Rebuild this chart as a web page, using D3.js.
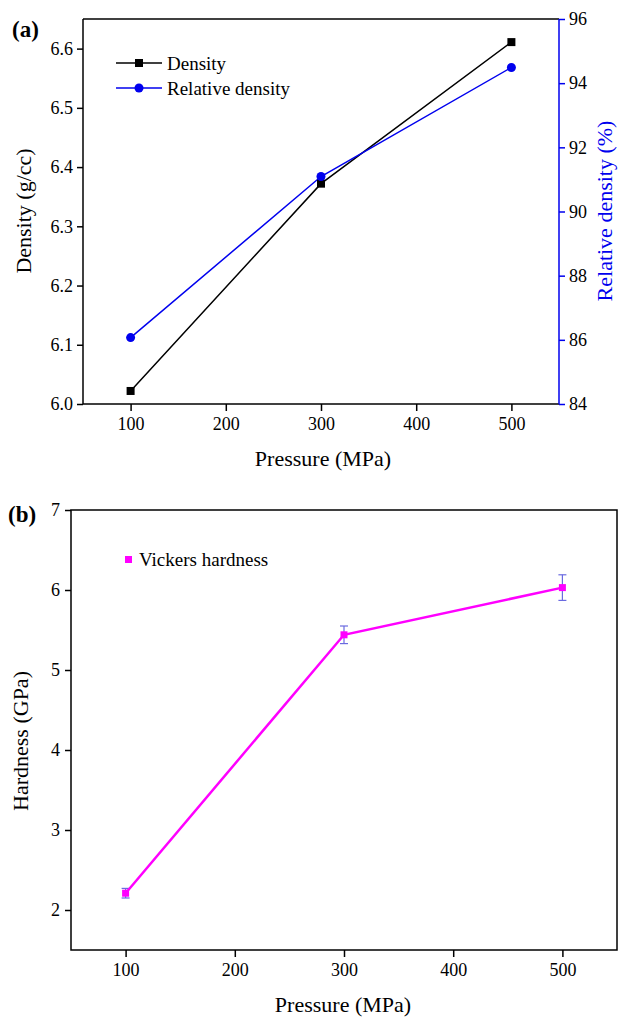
<!DOCTYPE html>
<html>
<head>
<meta charset="utf-8">
<script src="https://cdn.jsdelivr.net/npm/d3@7"></script>
<style>
  body { margin: 0; background: #fff; }
</style>
</head>
<body>
<div id="chart"></div>
<script>
// data
const pressure = [100, 300, 500];
const density = [6.022, 6.372, 6.611];
const relDensity = [86.07, 91.09, 94.49];
const hardness = [2.21, 5.44, 6.03];
const hardnessErr = [0.06, 0.11, 0.16];
const xTicks = [100, 200, 300, 400, 500];
const densTicks = [6.0, 6.1, 6.2, 6.3, 6.4, 6.5, 6.6];
const relTicks = [84, 86, 88, 90, 92, 94, 96];
const hardTicks = [2, 3, 4, 5, 6, 7];

const W = 625, H = 1019;
const FONT = "'Liberation Serif', 'Times New Roman', serif";
const svg = d3.select("#chart").append("svg")
    .attr("width", W).attr("height", H)
    .attr("font-family", FONT);

const fs = 18;     // tick labels
const legFs = 19;  // legend
const titleFs = 22;

// ---------- panel (a) ----------
const a = { left: 83, right: 559, top: 19, bottom: 404 };
const xa = d3.scaleLinear().domain([50, 550]).range([a.left, a.right]);
const ya = d3.scaleLinear().domain([6.0, 6.65]).range([a.bottom, a.top]);
const yr = d3.scaleLinear().domain([84, 96]).range([a.bottom, a.top]);

const gA = svg.append("g");

// top frame line
gA.append("line").attr("x1", a.left).attr("x2", a.right).attr("y1", a.top).attr("y2", a.top)
    .attr("stroke", "#000").attr("stroke-width", 1.5);

const axA_x = gA.append("g").attr("transform", `translate(0,${a.bottom})`)
    .call(d3.axisBottom(xa).tickValues(xTicks).tickSize(7).tickSizeOuter(0).tickPadding(6));
const axA_y = gA.append("g").attr("transform", `translate(${a.left},0)`)
    .call(d3.axisLeft(ya).tickValues(densTicks).tickFormat(d3.format(".1f")).tickSize(6).tickSizeOuter(0).tickPadding(4));
const axA_r = gA.append("g").attr("transform", `translate(${a.right},0)`)
    .call(d3.axisRight(yr).tickValues(relTicks).tickSize(6).tickSizeOuter(0).tickPadding(4));

[axA_x, axA_y, axA_r].forEach(g => {
  g.attr("font-family", FONT).attr("font-size", fs);
  g.selectAll("path, line").attr("stroke", "#000").attr("stroke-width", 1.5);
  g.selectAll("text").attr("fill", "#000").style("font-family", FONT).style("font-size", fs + "px");
});
axA_r.selectAll("path, line").attr("stroke", "#0000ee");

// extend axis domain lines to the frame corners
axA_x.select("path").attr("d", `M${a.left},0H${a.right}`);
axA_y.select("path").attr("d", `M0,${a.bottom}V${a.top}`);
axA_r.select("path").attr("d", `M0,${a.bottom}V${a.top}`);

const lineA = d3.line().x(d => xa(d[0])).y(d => ya(d[1]));
const lineR = d3.line().x(d => xa(d[0])).y(d => yr(d[1]));
const densData = pressure.map((p, i) => [p, density[i]]);
const relData = pressure.map((p, i) => [p, relDensity[i]]);

gA.append("path").datum(densData).attr("d", lineA)
    .attr("fill", "none").attr("stroke", "#000").attr("stroke-width", 1.5);
gA.append("path").datum(relData).attr("d", lineR)
    .attr("fill", "none").attr("stroke", "#0000ee").attr("stroke-width", 1.5);

gA.selectAll("rect.dens").data(densData).enter().append("rect")
    .attr("x", d => xa(d[0]) - 4).attr("y", d => ya(d[1]) - 4)
    .attr("width", 8).attr("height", 8).attr("fill", "#000");
gA.selectAll("circle.rel").data(relData).enter().append("circle")
    .attr("cx", d => xa(d[0])).attr("cy", d => yr(d[1])).attr("r", 4.5).attr("fill", "#0000ee");

// legend (a)
const legA = gA.append("g");
legA.append("line").attr("x1", 116).attr("x2", 162).attr("y1", 63).attr("y2", 63)
    .attr("stroke", "#000").attr("stroke-width", 1.5);
legA.append("rect").attr("x", 135).attr("y", 59).attr("width", 8).attr("height", 8).attr("fill", "#000");
legA.append("text").attr("x", 167).attr("y", 63).attr("dy", "0.35em").style("font-size", legFs + "px").text("Density");
legA.append("line").attr("x1", 116).attr("x2", 162).attr("y1", 88).attr("y2", 88)
    .attr("stroke", "#0000ee").attr("stroke-width", 1.5);
legA.append("circle").attr("cx", 139).attr("cy", 88).attr("r", 4.5).attr("fill", "#0000ee");
legA.append("text").attr("x", 167).attr("y", 88).attr("dy", "0.35em").style("font-size", legFs + "px").text("Relative density");

// titles (a)
gA.append("text").attr("x", 323).attr("y", 466).attr("text-anchor", "middle")
    .style("font-size", titleFs + "px").text("Pressure (MPa)");
gA.append("text").attr("transform", `translate(31,211) rotate(-90)`).attr("text-anchor", "middle")
    .style("font-size", titleFs + "px").text("Density (g/cc)");
gA.append("text").attr("transform", `translate(612,211) rotate(-90)`).attr("text-anchor", "middle")
    .attr("fill", "#0000ee").style("font-size", titleFs + "px").text("Relative density (%)");
gA.append("text").attr("x", 12).attr("y", 37).style("font-size", "23px").style("font-weight", "bold").text("(a)");

// ---------- panel (b) ----------
const b = { left: 71, right: 617, top: 510, bottom: 950 };
const xb = d3.scaleLinear().domain([50, 550]).range([b.left, b.right]);
const yb = d3.scaleLinear().domain([1.5, 7]).range([b.bottom, b.top]);

const gB = svg.append("g");
gB.append("rect").attr("x", b.left).attr("y", b.top)
    .attr("width", b.right - b.left).attr("height", b.bottom - b.top)
    .attr("fill", "none").attr("stroke", "#000").attr("stroke-width", 1.5);

const axB_x = gB.append("g").attr("transform", `translate(0,${b.bottom})`)
    .call(d3.axisBottom(xb).tickValues(xTicks).tickSize(7).tickSizeOuter(0).tickPadding(6));
const axB_y = gB.append("g").attr("transform", `translate(${b.left},0)`)
    .call(d3.axisLeft(yb).tickValues(hardTicks).tickFormat(d3.format("d")).tickSize(6).tickSizeOuter(0).tickPadding(5));
[axB_x, axB_y].forEach(g => {
  g.attr("font-family", FONT).attr("font-size", fs);
  g.selectAll("path").remove();
  g.selectAll("line").attr("stroke", "#000").attr("stroke-width", 1.5);
  g.selectAll("text").attr("fill", "#000").style("font-family", FONT).style("font-size", fs + "px");
});

const hardData = pressure.map((p, i) => [p, hardness[i], hardnessErr[i]]);

// error bars
const eb = gB.append("g").attr("stroke", "#6a6ae0").attr("stroke-width", 1.2);
hardData.forEach(d => {
  const x = xb(d[0]), y1 = yb(d[1] - d[2]), y2 = yb(d[1] + d[2]);
  eb.append("line").attr("x1", x).attr("x2", x).attr("y1", y1).attr("y2", y2);
  eb.append("line").attr("x1", x - 4).attr("x2", x + 4).attr("y1", y1).attr("y2", y1);
  eb.append("line").attr("x1", x - 4).attr("x2", x + 4).attr("y1", y2).attr("y2", y2);
});

gB.append("path").datum(hardData)
    .attr("d", d3.line().x(d => xb(d[0])).y(d => yb(d[1])))
    .attr("fill", "none").attr("stroke", "#ff00ff").attr("stroke-width", 2.5);
gB.selectAll("rect.hard").data(hardData).enter().append("rect")
    .attr("x", d => xb(d[0]) - 3.5).attr("y", d => yb(d[1]) - 3.5)
    .attr("width", 7).attr("height", 7).attr("fill", "#ff00ff");

// legend (b)
gB.append("rect").attr("x", 125).attr("y", 556).attr("width", 7).attr("height", 7).attr("fill", "#ff00ff");
gB.append("text").attr("x", 139).attr("y", 559).attr("dy", "0.35em").style("font-size", legFs + "px").text("Vickers hardness");

// titles (b)
gB.append("text").attr("x", 343).attr("y", 1012).attr("text-anchor", "middle")
    .style("font-size", titleFs + "px").text("Pressure (MPa)");
gB.append("text").attr("transform", `translate(28,741) rotate(-90)`).attr("text-anchor", "middle")
    .style("font-size", titleFs + "px").text("Hardness (GPa)");
gB.append("text").attr("x", 8).attr("y", 522).style("font-size", "23px").style("font-weight", "bold").text("(b)");
</script>
</body>
</html>
